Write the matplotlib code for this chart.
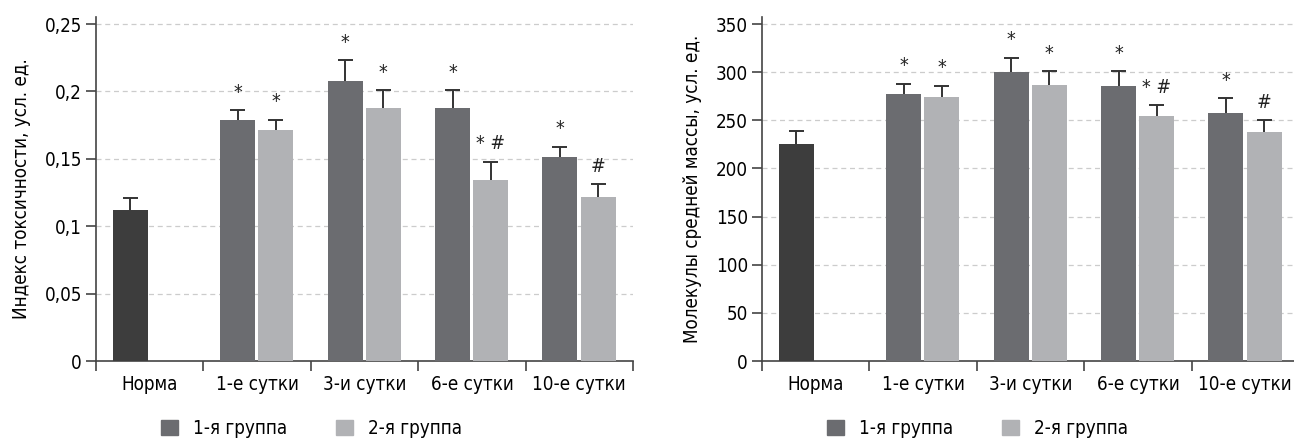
import matplotlib
matplotlib.use('Agg')
import matplotlib.pyplot as plt
from matplotlib.patches import Patch
from matplotlib import font_manager

# narrow font, if there is one
names = set(f.name for f in font_manager.fontManager.ttflist)
if 'Liberation Sans Narrow' in names:
    plt.rcParams['font.family'] = ['Liberation Sans Narrow', 'DejaVu Sans']
else:
    plt.rcParams['font.family'] = ['DejaVu Sans']
    plt.rcParams['font.stretch'] = 'condensed'

categories = ['Норма', '1-е сутки', '3-и сутки', '6-е сутки', '10-е сутки']
legend_labels = ['1-я группа', '2-я группа']

# Индекс токсичности
tox_norm = 0.112
tox_norm_err = 0.009
tox_g1 = [0.179, 0.208, 0.188, 0.151]
tox_g1_err = [0.007, 0.015, 0.013, 0.008]
tox_g2 = [0.171, 0.188, 0.134, 0.122]
tox_g2_err = [0.008, 0.013, 0.014, 0.009]
tox_ticks = [0, 0.05, 0.1, 0.15, 0.2, 0.25]
tox_ticklabels = ['0', '0,05', '0,1', '0,15', '0,2', '0,25']

# Молекулы средней массы
msm_norm = 225
msm_norm_err = 14
msm_g1 = [277, 300, 286, 258]
msm_g1_err = [11, 15, 15, 15]
msm_g2 = [274, 287, 254, 238]
msm_g2_err = [12, 14, 12, 12]
msm_ticks = [0, 50, 100, 150, 200, 250, 300, 350]
msm_ticklabels = ['0', '50', '100', '150', '200', '250', '300', '350']

marks_g1 = ['*', '*', '*', '*']
marks_g2 = ['*', '*', '* #', '#']

c_norm = '#3d3d3d'
c_g1 = '#6b6c70'
c_g2 = '#b1b2b5'
c_axis = '#444444'
c_err = '#333333'


def err_up(ax, xs, vals, errs):
    # only the upper whisker with a cap
    cw = 0.07
    for x, v, e in zip(xs, vals, errs):
        ax.vlines(x, v, v + e, color=c_err, lw=1.4, zorder=4)
        ax.hlines(v + e, x - cw, x + cw, color=c_err, lw=1.4, zorder=4)


def draw(ax, norm, norm_err, g1, g1_err, g2, g2_err, ticks, ticklabels, ymax, ylabel):
    w = 0.326
    off1 = -0.18
    off2 = 0.175

    ax.bar(0.5 + off1, norm, w, color=c_norm, zorder=3)
    err_up(ax, [0.5 + off1], [norm], [norm_err])

    xs1 = [i + 1.5 + off1 for i in range(len(g1))]
    xs2 = [i + 1.5 + off2 for i in range(len(g2))]
    ax.bar(xs1, g1, w, color=c_g1, zorder=3)
    ax.bar(xs2, g2, w, color=c_g2, zorder=3)
    err_up(ax, xs1, g1, g1_err)
    err_up(ax, xs2, g2, g2_err)

    for x, v, e, m in zip(xs1, g1, g1_err, marks_g1):
        ax.annotate(m, (x, v + e), xytext=(0, 6), textcoords='offset points',
                    ha='center', va='bottom', fontsize=14, color='#222222')
    for x, v, e, m in zip(xs2, g2, g2_err, marks_g2):
        ax.annotate(m, (x, v + e), xytext=(0, 6), textcoords='offset points',
                    ha='center', va='bottom', fontsize=14, color='#222222')

    ax.set_xlim(0, 5)
    ax.set_ylim(0, ymax)
    ax.set_yticks(ticks)
    ax.set_yticklabels(ticklabels, fontsize=13.5)
    ax.set_xticks(range(6))
    ax.set_xticklabels([])
    ax.set_xticks([i + 0.5 for i in range(5)], minor=True)
    ax.set_xticklabels(categories, minor=True, fontsize=13.5)
    ax.tick_params(axis='x', which='major', length=7, width=1.2, color=c_axis, direction='out')
    ax.tick_params(axis='x', which='minor', length=0, pad=10)
    ax.tick_params(axis='y', length=7, width=1.2, color=c_axis, pad=3)
    for t in ticks[1:]:
        ax.axhline(t, color='#cccccc', lw=0.9, ls=(0, (4, 3)), zorder=1)
    ax.spines['top'].set_visible(False)
    ax.spines['right'].set_visible(False)
    ax.spines['left'].set_color(c_axis)
    ax.spines['bottom'].set_color(c_axis)
    ax.spines['left'].set_linewidth(1.2)
    ax.spines['bottom'].set_linewidth(1.2)
    ax.set_ylabel(ylabel, fontsize=13.5, labelpad=10)

    handles = [Patch(color=c_g1), Patch(color=c_g2)]
    ax.legend(handles, legend_labels, loc='upper left', bbox_to_anchor=(0.09, -0.12),
              ncol=2, frameon=False, fontsize=13.5, handlelength=0.9, handleheight=0.9,
              handletextpad=0.8, columnspacing=2.6)


fig = plt.figure(figsize=(12.94, 4.4), dpi=100)
ax1 = fig.add_axes([96 / 1294, 79 / 440, 537 / 1294, 344 / 440])
ax2 = fig.add_axes([762 / 1294, 79 / 440, 537 / 1294, 344 / 440])

draw(ax1, tox_norm, tox_norm_err, tox_g1, tox_g1_err, tox_g2, tox_g2_err,
     tox_ticks, tox_ticklabels, 0.2552, 'Индекс токсичности, усл. ед.')
draw(ax2, msm_norm, msm_norm_err, msm_g1, msm_g1_err, msm_g2, msm_g2_err,
     msm_ticks, msm_ticklabels, 357.3, 'Молекулы средней массы, усл. ед.')

fig.savefig('out.png', dpi=100)
